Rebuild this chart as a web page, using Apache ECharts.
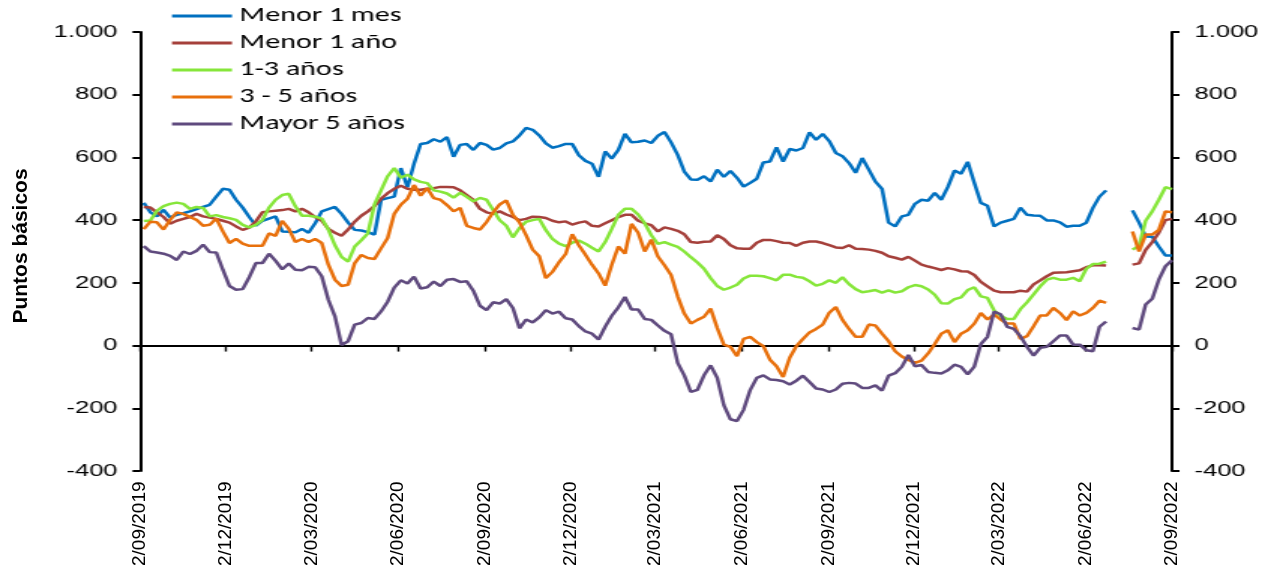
<!DOCTYPE html>
<html>
<head>
<meta charset="utf-8">
<script src="https://cdn.jsdelivr.net/npm/echarts@6.0.0/dist/echarts.min.js"></script>
<style>
html,body{margin:0;padding:0;background:#fff;width:1265px;height:569px;overflow:hidden;}
#c{position:absolute;left:0;top:0;width:843px;height:569px;transform-origin:0 0;transform:scaleX(1.50059);}
#o{position:absolute;left:0;top:0;width:1265px;height:569px;pointer-events:none;}
</style>
</head>
<body>
<div id="c"></div>
<div id="o"></div>
<script>
// ---- data (weekly, Fridays from 6 Sep 2019 to 2 Sep 2022) ----
const firstWeek = Date.UTC(2019, 8, 6);
const weekCount = 157;
const seriesNames = ['Menor 1 mes', 'Menor 1 año', '1-3 años', '3 - 5 años', 'Mayor 5 años'];
const tickDates = [
  [2019, 9], [2019, 12], [2020, 3], [2020, 6], [2020, 9], [2020, 12], [2021, 3],
  [2021, 6], [2021, 9], [2021, 12], [2022, 3], [2022, 6], [2022, 9]
];
const yTicks = { min: -400, max: 1000, step: 200 };

const menor1mes = [
  455,425,412,433,408,417,422,428,435,442,
  449,475,500,497,465,440,410,382,398,405,
  412,364,363,361,372,360,390,428,435,442,
  420,392,369,367,362,354,465,470,475,566,
  505,580,643,646,658,650,665,602,640,643,
  624,646,640,625,630,645,651,670,694,688,
  670,645,631,636,643,643,607,589,580,538,
  619,596,624,675,648,650,654,646,669,681,
  648,608,555,530,529,540,523,561,538,557,
  535,507,519,532,584,587,632,587,627,622,
  630,680,656,675,652,614,604,582,551,598,
  561,523,500,392,380,412,417,452,465,462,
  487,465,506,558,548,586,519,455,446,380,
  392,398,404,440,417,415,414,399,399,393,
  379,382,382,392,439,475,495,
  null,null,null,
  431,392,348,347,316,287,287
];
const menor1ano = [
  442,440,425,410,389,398,404,410,420,412,
  408,404,398,392,380,369,376,396,425,428,
  430,432,436,428,436,425,410,398,372,360,
  350,370,395,414,428,445,468,486,500,510,
  500,497,497,500,502,506,506,505,495,480,
  465,436,425,420,428,418,410,400,404,411,
  410,407,398,393,396,386,392,396,382,380,
  390,400,410,417,417,398,390,384,364,377,
  372,366,355,330,328,331,332,352,340,320,
  310,309,309,328,337,337,333,328,327,318,
  328,332,332,327,320,313,311,320,309,308,
  306,302,296,285,280,274,283,271,258,252,
  247,241,247,243,237,236,225,203,189,175,
  170,170,170,175,172,195,208,221,232,233,
  234,237,240,250,256,256,255,
  null,null,null,
  258,262,305,330,360,400,404
];
const anos1a3 = [
  397,399,430,445,452,456,452,436,442,439,
  412,416,410,406,401,385,377,385,400,440,
  465,480,484,444,414,414,411,405,370,320,
  283,268,316,336,358,450,495,540,566,535,
  545,530,522,518,495,491,485,472,487,474,
  460,471,465,432,400,382,345,375,395,400,
  404,368,340,325,317,328,335,325,312,300,
  330,372,417,436,436,418,390,352,324,330,
  322,315,300,282,265,245,215,190,178,185,
  194,214,223,223,221,215,208,226,226,219,
  216,205,191,197,208,200,218,196,180,170,
  173,177,169,176,169,173,186,193,189,179,
  162,135,134,148,154,177,186,157,152,112,
  95,85,85,116,138,163,189,210,216,210,
  210,216,205,245,260,261,268,
  null,null,null,
  306,318,398,428,465,505,499
];
const anos3a5 = [
  371,395,393,370,401,425,420,410,401,382,
  385,405,364,327,340,325,318,318,318,358,
  350,398,372,330,340,330,340,327,258,210,
  190,194,263,289,279,276,310,343,420,449,
  468,512,478,502,470,465,448,428,439,382,
  375,370,394,425,450,463,417,393,352,306,
  285,215,235,266,292,355,320,290,258,230,
  191,258,316,293,388,360,300,338,284,256,
  225,157,102,70,82,92,118,56,3,-4,
  -34,21,28,11,-2,-45,-66,-100,-39,-2,
  21,42,53,67,105,123,82,53,28,28,
  67,64,38,14,-18,-35,-46,-55,-48,-25,
  5,38,49,11,38,49,70,104,83,99,
  83,70,70,21,30,62,96,96,120,104,
  81,109,96,104,120,143,136,
  null,null,null,
  364,300,354,354,369,428,425
];
const mayor5anos = [
  317,300,297,293,286,273,300,292,302,322,
  298,297,242,190,178,180,218,263,263,293,
  270,243,262,242,240,251,250,221,146,93,
  2,14,67,72,88,85,109,140,185,208,
  198,220,182,186,204,190,210,212,203,205,
  175,127,113,138,134,148,120,55,83,74,
  90,113,102,108,87,83,62,45,38,19,
  60,95,122,155,115,115,85,82,64,47,
  36,-55,-95,-148,-141,-95,-63,-103,-190,-235,
  -241,-205,-142,-103,-95,-108,-110,-114,-124,-112,
  -96,-116,-137,-140,-148,-140,-122,-119,-121,-135,
  -135,-127,-144,-96,-88,-68,-30,-66,-62,-84,
  -87,-89,-79,-61,-68,-92,-67,5,28,108,
  100,60,53,30,-4,-32,-7,-4,14,32,
  32,3,3,-15,-18,60,77,
  null,null,null,
  56,51,131,149,210,253,272
];
const seriesValues = [menor1mes, menor1ano, anos1a3, anos3a5, mayor5anos];
const seriesColors = ['#0070C0', '#A5403B', '#86E63A', '#E8700C', '#5F4A7E'];

// ---- build ----
const DAY = 86400000;
const weekDates = [];
for (let i = 0; i < weekCount; i++) weekDates.push(firstWeek + i * 7 * DAY);
const tickValues = tickDates.map(([y, m]) => Date.UTC(y, m - 1, 2));
const xMin = tickValues[0], xMax = tickValues[tickValues.length - 1];
const pad2 = n => (n < 10 ? '0' : '') + n;
const fmtDate = v => { const d = new Date(v); return d.getUTCDate() + '/' + pad2(d.getUTCMonth() + 1) + '/' + d.getUTCFullYear(); };
const fmtNum = v => { const s = String(Math.abs(v)); const t = s.length > 3 ? s.slice(0, s.length - 3) + '.' + s.slice(-3) : s; return (v < 0 ? '-' : '') + t; };

const SX = 1265 / 843;
const FONT = '"Liberation Sans", Arial, sans-serif';

const yAxisBase = (pos) => ({
  type: 'value', position: pos, min: yTicks.min, max: yTicks.max, interval: yTicks.step,
  axisLine: { show: true, lineStyle: { color: '#000', width: 2 } },
  axisTick: { show: true, inside: false, length: 5, lineStyle: { color: '#000', width: 2 } },
  axisLabel: { show: true, margin: 15, fontSize: 17, fontFamily: FONT, color: '#000', formatter: fmtNum },
  splitLine: { show: false }
});

const main = echarts.init(document.getElementById('c'), null, { renderer: 'canvas' });
main.setOption({
  animation: false,
  backgroundColor: 'transparent',
  grid: { left: 140 / SX, right: 93 / SX, top: 32, bottom: 98 },
  legend: {
    orient: 'vertical', left: 172 / SX, top: 6, padding: 0,
    icon: 'rect', itemWidth: 60 / SX, itemHeight: 3, itemGap: 7,
    textStyle: { fontFamily: 'Carlito, Lato, sans-serif', fontSize: 20, lineHeight: 20, color: '#000' },
    data: seriesNames
  },
  xAxis: {
    type: 'value', min: xMin, max: xMax,
    axisLine: { show: true, onZero: true, lineStyle: { color: '#000', width: 2 } },
    axisTick: { show: true, customValues: tickValues, length: 6, lineStyle: { color: '#000', width: 1.4 } },
    axisLabel: { show: false },
    splitLine: { show: false }
  },
  yAxis: [yAxisBase('left'), yAxisBase('right')],
  series: seriesNames.map((name, s) => ({
    name, type: 'line', showSymbol: false, symbol: 'none', connectNulls: false,
    color: seriesColors[s],
    lineStyle: { width: 2.5, color: seriesColors[s] },
    data: weekDates.map((d, i) => [d, seriesValues[s][i]])
  }))
});

const over = echarts.init(document.getElementById('o'), null, { renderer: 'canvas' });
over.setOption({
  animation: false,
  backgroundColor: 'transparent',
  grid: { left: 140, right: 93, top: 32, bottom: 98 },
  xAxis: {
    type: 'value', min: xMin, max: xMax,
    axisLine: { show: false, onZero: false },
    axisTick: { show: false },
    axisLabel: { show: true, customValues: tickValues, rotate: 90, margin: 11, fontSize: 19, fontFamily: FONT, color: '#000', formatter: fmtDate },
    splitLine: { show: false }
  },
  yAxis: { type: 'value', min: yTicks.min, max: yTicks.max, show: false },
  graphic: [{
    type: 'text', x: 21, y: 246, rotation: Math.PI / 2,
    style: { text: 'Puntos básicos', font: 'bold 21px ' + FONT, fill: '#000', align: 'center', verticalAlign: 'middle' }
  }],
  series: [{ type: 'line', data: [] }]
});
</script>
</body>
</html>
